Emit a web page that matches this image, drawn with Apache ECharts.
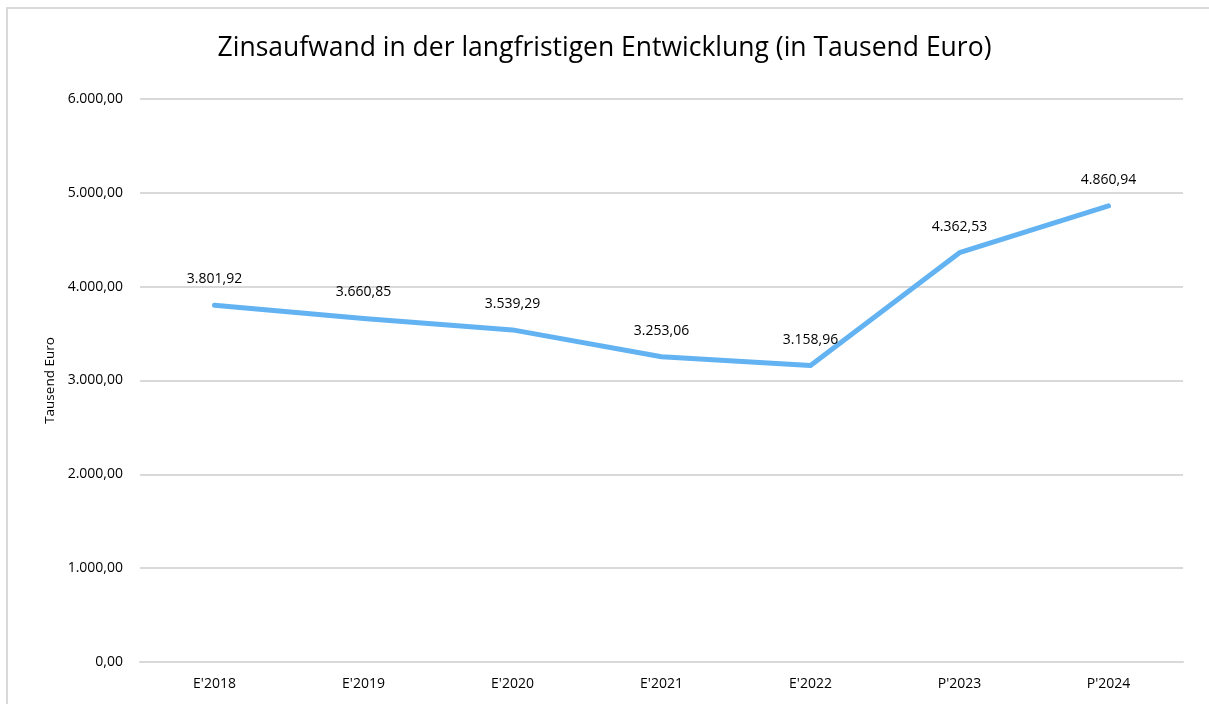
<!DOCTYPE html>
<html>
<head>
<meta charset="utf-8">
<script src="https://cdn.jsdelivr.net/npm/echarts@6/dist/echarts.min.js"></script>
<style>html,body{margin:0;padding:0;background:#fff}#c{width:1209px;height:704px}</style>
</head>
<body>
<div id="c"></div>
<script>
const categories = ["E'2018","E'2019","E'2020","E'2021","E'2022","P'2023","P'2024"];
const values = [3801.92, 3660.85, 3539.29, 3253.06, 3158.96, 4362.53, 4860.94];
const yTicks = [0, 1000, 2000, 3000, 4000, 5000, 6000];

function fmt(v, d) {
  const s = Number(v).toFixed(d);
  const parts = s.split('.');
  const intPart = parts[0].replace(/\B(?=(\d{3})+(?!\d))/g, '.');
  return d > 0 ? intPart + ',' + parts[1] : intPart;
}

const FONT = '"Open Sans", "Noto Sans", sans-serif';
const chart = echarts.init(document.getElementById('c'), null, {renderer: 'canvas'});
chart.setOption({
  animation: false,
  backgroundColor: '#ffffff',
  textStyle: {fontFamily: FONT},
  graphic: [{
    type: 'rect', shape: {x: 7, y: 8, width: 1400, height: 900},
    style: {fill: 'none', stroke: '#d9d9d9', lineWidth: 2}, silent: true, z: -1
  }],
  title: {
    text: 'Zinsaufwand in der langfristigen Entwicklung (in Tausend Euro)',
    left: 'center', top: 30,
    textStyle: {fontFamily: FONT, fontSize: 26.5, fontWeight: 'normal', color: '#000000'}
  },
  grid: {left: 140, right: 26, top: 99, bottom: 42, containLabel: false},
  xAxis: {
    type: 'category', data: categories, boundaryGap: true,
    axisLine: {show: true, lineStyle: {color: '#d9d9d9', width: 2}},
    axisTick: {show: false},
    axisLabel: {color: '#000', fontSize: 14, fontFamily: FONT, margin: 15}
  },
  yAxis: {
    type: 'value', min: yTicks[0], max: yTicks[yTicks.length - 1], interval: 1000,
    name: 'Tausend Euro', nameLocation: 'middle', nameGap: 82, nameRotate: 90,
    nameTextStyle: {color: '#000', fontSize: 13.5, fontFamily: FONT},
    axisLine: {show: false}, axisTick: {show: false},
    splitLine: {lineStyle: {color: '#d9d9d9', width: 2}},
    axisLabel: {color: '#000', fontSize: 14, fontFamily: FONT, margin: 17,
      formatter: v => fmt(v, 2)}
  },
  series: [{
    type: 'line', data: values, symbol: 'circle', symbolSize: 0.01, showSymbol: true,
    itemStyle: {color: 'rgba(0,0,0,0)'},
    lineStyle: {color: '#63b3f2', width: 5, cap: 'round', join: 'round'},
    label: {show: true, position: 'top', distance: 19, color: '#000', fontSize: 14,
      fontFamily: FONT, formatter: p => fmt(p.value, 2)}
  }]
});
</script>
</body>
</html>
